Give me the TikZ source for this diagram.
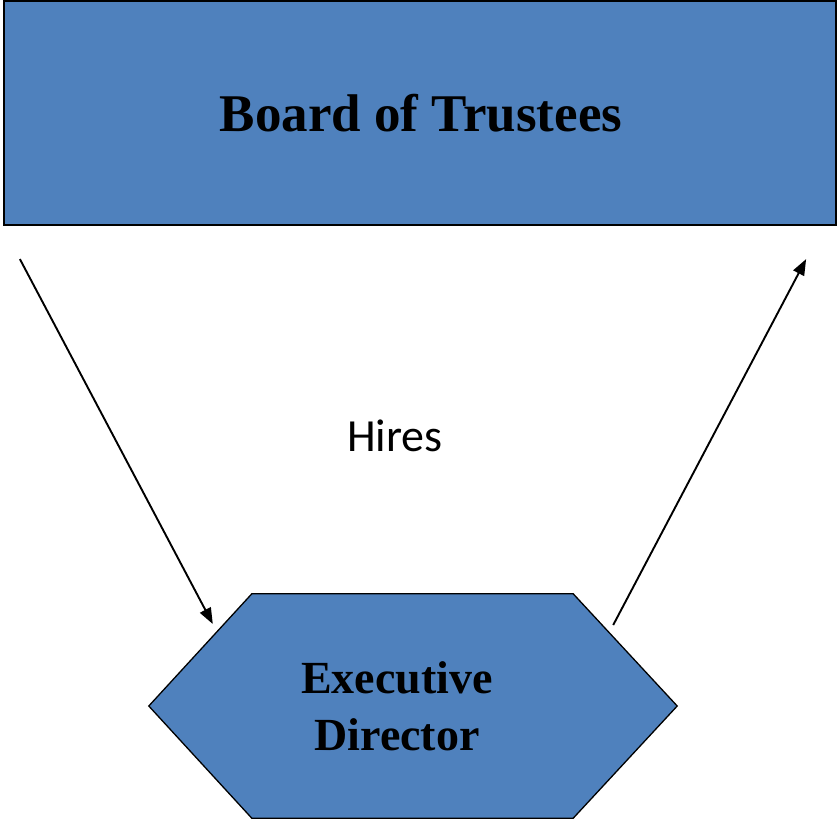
\documentclass[tikz,border=0pt]{standalone}
\usepackage{fontspec}
\setmainfont{Liberation Serif}
\newfontfamily\calib{Carlito}
\usetikzlibrary{arrows.meta,calc}
\definecolor{offblue}{HTML}{4F81BD}
\tikzset{
  boardbox/.style={draw=black, line width=2.2pt, fill=offblue, minimum width=832pt, minimum height=224pt, inner sep=0pt},
  hexframe/.style={draw=black, line width=1.3pt, fill=offblue},
  conn/.style={line width=1.9pt, -{Triangle[length=16pt,width=12pt]}},
  lbl/.style={font=\calib\fontsize{46}{52}\selectfont},
}
\begin{document}
\begin{tikzpicture}[x=1pt,y=-1pt]
\useasboundingbox (0,0) rectangle (837,821);
\node[boardbox] (board) at (420,113) {};
\node[font=\bfseries\fontsize{53}{60}\selectfont] (boardtxt) at (421,113) {Board of Trustees};
% hexagon
\node[minimum width=528pt, minimum height=224pt, inner sep=0pt] (hex) at (413,706) {};
\draw[hexframe] (hex.west) -- ($(hex.north west)+(103,0)$) -- ($(hex.north east)+(-104,0)$) -- (hex.east) -- ($(hex.south east)+(-104,0)$) -- ($(hex.south west)+(103,0)$) -- cycle;
\node[font=\bfseries\fontsize{46}{57}\selectfont, align=center] (exec) at (397,706) {Executive\\Director};
\node[lbl] (hires) at (395,436) {Hires};
\coordinate (s1) at ($(board.south west)+(17,33)$);
\coordinate (e1) at ($(hex.west)+(64,-82)$);
\coordinate (s2) at ($(hex.east)+(-64,-81)$);
\coordinate (e2) at ($(board.south east)+(-31,33)$);
\draw[conn] (s1) -- (e1);
\draw[conn] (s2) -- (e2);
\end{tikzpicture}
\end{document}
